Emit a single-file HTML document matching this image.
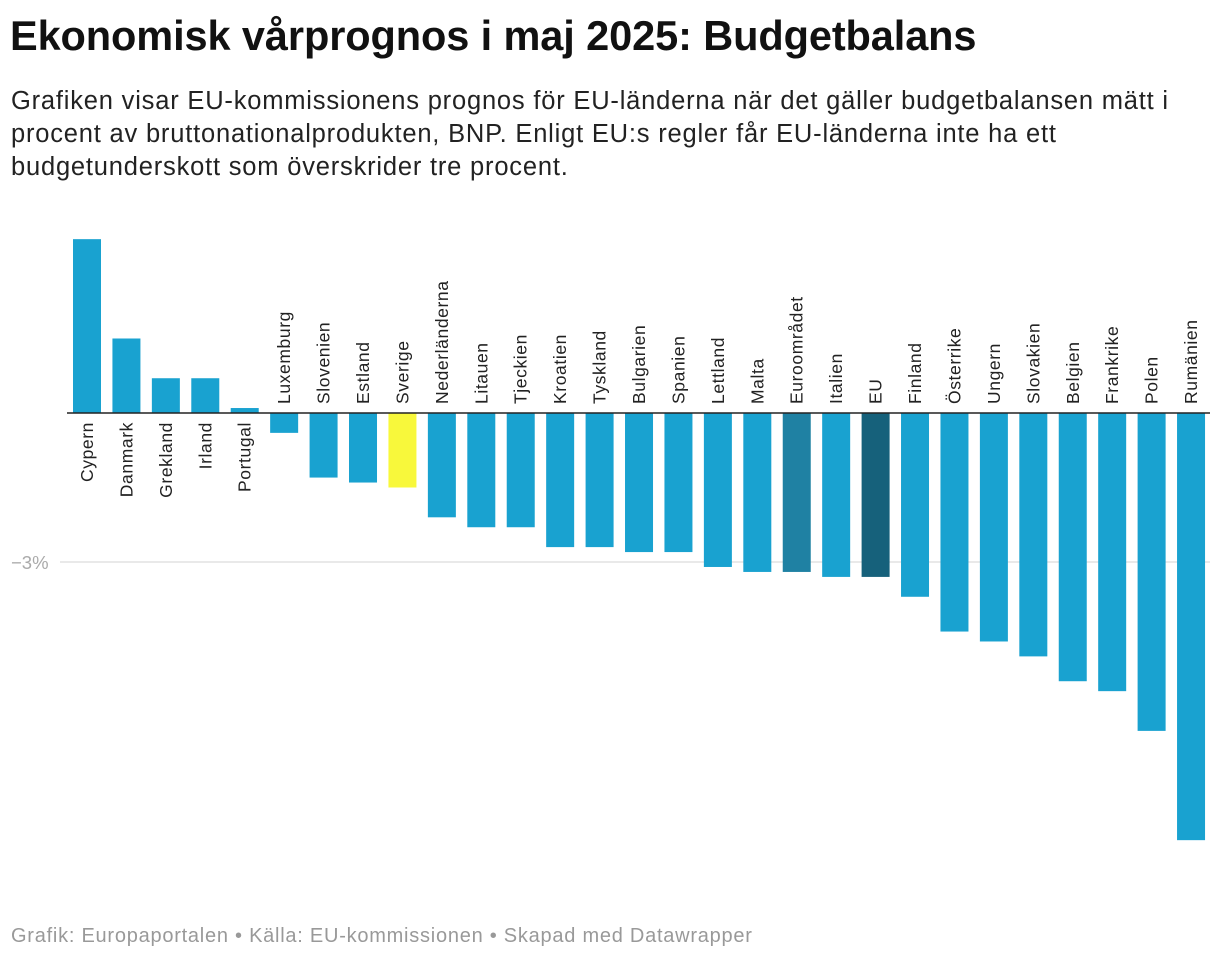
<!DOCTYPE html>
<html><head><meta charset="utf-8">
<style>
body{margin:0;background:#fff;font-family:"Liberation Sans",sans-serif;}
#wrap{position:relative;width:1220px;height:960px;overflow:hidden;}
h1{position:absolute;left:10px;top:12px;margin:0;font-size:41.5px;font-weight:bold;color:#111;letter-spacing:-0.1px;white-space:nowrap;}
#sub{position:absolute;left:11px;top:85px;width:1210px;margin:0;font-size:25.5px;letter-spacing:0.8px;line-height:33px;color:#222;white-space:nowrap;}
#foot{position:absolute;left:11px;top:925px;font-size:20px;letter-spacing:0.75px;color:#999;white-space:nowrap;}
svg{position:absolute;left:0;top:0;}
</style></head><body>
<div id="wrap">
<h1>Ekonomisk vårprognos i maj 2025: Budgetbalans</h1>
<p id="sub">Grafiken visar EU-kommissionens prognos för EU-länderna när det gäller budgetbalansen mätt i<br>procent av bruttonationalprodukten, BNP. Enligt EU:s regler får EU-länderna inte ha ett<br>budgetunderskott som överskrider tre procent.</p>
<svg id="chart" width="1220" height="960"></svg>
<div id="foot">Grafik: Europaportalen • Källa: EU-kommissionen • Skapad med Datawrapper</div>
</div>
<script>
const categories=["Cypern","Danmark","Grekland","Irland","Portugal","Luxemburg","Slovenien","Estland","Sverige","Nederländerna","Litauen","Tjeckien","Kroatien","Tyskland","Bulgarien","Spanien","Lettland","Malta","Euroområdet","Italien","EU","Finland","Österrike","Ungern","Slovakien","Belgien","Frankrike","Polen","Rumänien"];
const values=[3.5,1.5,0.7,0.7,0.1,-0.4,-1.3,-1.4,-1.5,-2.1,-2.3,-2.3,-2.7,-2.7,-2.8,-2.8,-3.1,-3.2,-3.2,-3.3,-3.3,-3.7,-4.4,-4.6,-4.9,-5.4,-5.6,-6.4,-8.6];
const yTicks=[-3];
const tickLabels=["−3%"];
const svg=document.getElementById('chart');
const NS="http://www.w3.org/2000/svg";
const y0=413, pxPer=49.67;
const y=v=>y0-v*pxPer;
const x=i=>73+i*39.43;
const bw=28;
function colorFor(c){if(c==="Sverige")return"#f8f83b";if(c==="Euroområdet")return"#1f81a3";if(c==="EU")return"#16617b";return"#19a2d0";}
yTicks.forEach((t,i)=>{
  const l=document.createElementNS(NS,'line');
  l.setAttribute('x1',60);l.setAttribute('x2',1210);l.setAttribute('y1',y(t));l.setAttribute('y2',y(t));
  l.setAttribute('stroke','#e2e2e2');l.setAttribute('stroke-width',1.5);
  
  
  svg.appendChild(l);
  const tx=document.createElementNS(NS,'text');
  tx.setAttribute('x',11);tx.setAttribute('y',y(t)+7);tx.setAttribute('font-size',18.5);tx.setAttribute('fill','#aaa');
  tx.setAttribute('font-family','Liberation Sans, sans-serif');
  tx.textContent=tickLabels[i];
  
  
  svg.appendChild(tx);
});
categories.forEach((c,i)=>{
  const v=values[i];
  const r=document.createElementNS(NS,'rect');
  r.setAttribute('x',x(i));r.setAttribute('width',bw);
  r.setAttribute('y',Math.min(y(v),y0));r.setAttribute('height',Math.abs(y(v)-y0));
  r.setAttribute('fill',colorFor(c));
  
  
  svg.appendChild(r);
  const t=document.createElementNS(NS,'text');
  const cx=x(i)+bw/2+6;
  const ty=v>=0?422:404;
  t.setAttribute('transform','translate('+cx+','+ty+') rotate(-90)');
  t.setAttribute('text-anchor',v>=0?'end':'start');
  t.setAttribute('font-size',17.5);t.setAttribute('letter-spacing',0.6);t.setAttribute('fill','#222');
  t.setAttribute('font-family','Liberation Sans, sans-serif');
  t.textContent=c;
  
  
  svg.appendChild(t);
});
const z=document.createElementNS(NS,'line');
z.setAttribute('x1',67);z.setAttribute('x2',1210);z.setAttribute('y1',y0);z.setAttribute('y2',y0);
z.setAttribute('stroke','#222');z.setAttribute('stroke-width',1.5);


svg.appendChild(z);
</script>
</body></html>
